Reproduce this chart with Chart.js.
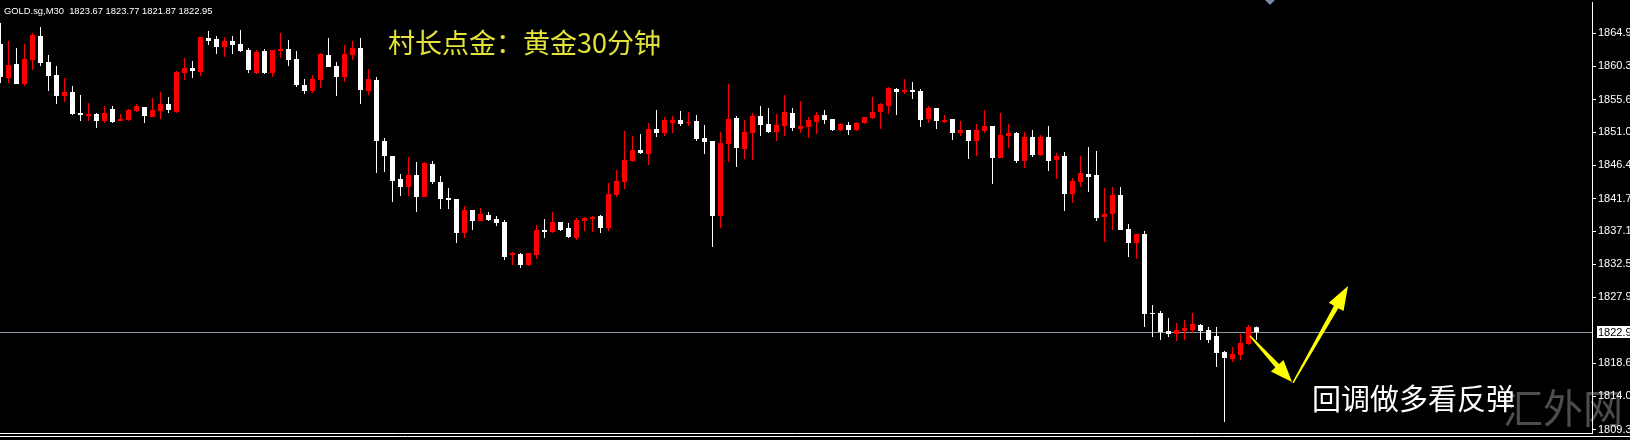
<!DOCTYPE html>
<html>
<head>
<meta charset="utf-8">
<title>GOLD.sg M30</title>
<script src="https://cdn.jsdelivr.net/npm/chart.js@4"></script>
<style>
  html, body { margin: 0; padding: 0; background: #000; }
  #wrap { position: relative; width: 1630px; height: 440px; }
</style>
</head>
<body>
<div id="wrap"><canvas id="chart"></canvas></div>
<script>
// texts on the chart
const symbolLine = 'GOLD.sg,M30  1823.67 1823.77 1821.87 1822.95';
const titleText = '村长点金：黄金30分钟';
const noteText = '回调做多看反弹';
const watermark = '汇外网';

// price axis ticks and the current bid
const priceTicks = [1864.90, 1860.30, 1855.60, 1851.00, 1846.40, 1841.70, 1837.10, 1832.50, 1827.90, 1818.60, 1814.00, 1809.30];
const lastPrice = 1822.95;
const axisFont = '"Liberation Sans Narrow", "Liberation Sans"';

// 30 minute bars (oldest first)
const open = [
  1863.40, 1858.63, 1860.59, 1857.78, 1861.15, 1864.52, 1860.87, 1859.05, 1856.10, 1856.66,
  1853.72, 1853.29, 1853.58, 1852.59, 1854.28, 1852.59, 1852.73, 1854.00, 1854.56, 1853.15,
  1854.00, 1854.98, 1853.86, 1859.33, 1860.03, 1859.47, 1864.24, 1864.10, 1862.98, 1863.82,
  1863.40, 1862.56, 1859.33, 1862.41, 1859.33, 1862.41, 1862.70, 1861.29, 1857.64, 1856.80,
  1858.35, 1861.85, 1860.31, 1858.77, 1861.85, 1862.84, 1856.80, 1858.35, 1849.79, 1847.68,
  1844.46, 1843.33, 1845.02, 1841.93, 1846.56, 1844.04, 1841.79, 1841.65, 1836.88, 1840.11,
  1838.56, 1839.41, 1838.84, 1838.42, 1833.79, 1833.93, 1832.39, 1833.79, 1837.30, 1837.02,
  1838.42, 1837.58, 1836.18, 1838.56, 1838.84, 1839.27, 1837.58, 1842.21, 1844.04, 1846.98,
  1848.53, 1847.96, 1851.47, 1850.91, 1852.31, 1852.73, 1852.31, 1852.59, 1850.21, 1849.79,
  1839.27, 1849.37, 1853.01, 1848.67, 1850.91, 1853.29, 1852.17, 1851.05, 1851.89, 1853.72,
  1851.47, 1851.75, 1852.45, 1853.43, 1852.87, 1851.33, 1852.03, 1851.33, 1852.31, 1853.01,
  1853.86, 1854.70, 1857.08, 1856.66, 1856.94, 1856.80, 1852.87, 1854.42, 1852.45, 1852.87,
  1850.91, 1851.33, 1849.79, 1851.19, 1851.89, 1847.40, 1850.49, 1850.91, 1846.98, 1850.35,
  1847.82, 1850.35, 1847.12, 1847.68, 1842.35, 1844.04, 1845.16, 1845.02, 1839.12, 1839.55,
  1842.21, 1837.44, 1835.48, 1836.74, 1825.66, 1825.66, 1823.13, 1822.71, 1823.13, 1823.27,
  1823.97, 1823.27, 1822.43, 1820.18, 1819.20, 1819.76, 1821.31, 1823.67
];
const high = [
  1866.34, 1863.82, 1862.84, 1863.40, 1864.94, 1865.78, 1861.85, 1860.31, 1858.63, 1857.50,
  1856.24, 1855.12, 1853.72, 1854.70, 1854.70, 1853.58, 1854.28, 1854.98, 1854.56, 1855.82,
  1856.66, 1855.96, 1859.61, 1861.43, 1861.01, 1864.38, 1865.22, 1864.52, 1864.38, 1864.52,
  1865.36, 1862.84, 1862.56, 1862.70, 1862.56, 1864.94, 1863.96, 1862.41, 1858.49, 1859.05,
  1862.13, 1864.24, 1860.87, 1863.26, 1863.82, 1864.24, 1859.89, 1858.77, 1850.21, 1847.68,
  1845.16, 1847.54, 1846.84, 1846.84, 1846.98, 1844.88, 1843.19, 1841.65, 1840.67, 1840.11,
  1840.39, 1839.83, 1839.27, 1838.70, 1834.21, 1834.07, 1834.07, 1838.00, 1838.84, 1839.83,
  1838.42, 1838.28, 1838.98, 1839.12, 1839.27, 1839.41, 1843.90, 1845.72, 1851.19, 1850.49,
  1850.77, 1852.31, 1854.14, 1853.15, 1853.29, 1854.00, 1853.86, 1853.43, 1852.03, 1849.79,
  1851.05, 1857.78, 1853.29, 1852.73, 1853.72, 1854.70, 1854.42, 1853.58, 1856.24, 1854.42,
  1855.40, 1853.15, 1853.86, 1854.14, 1852.87, 1852.31, 1852.45, 1852.45, 1853.15, 1855.96,
  1855.12, 1857.36, 1857.22, 1858.49, 1858.07, 1857.08, 1854.70, 1854.42, 1853.43, 1852.87,
  1852.59, 1851.33, 1852.17, 1854.14, 1851.89, 1853.72, 1852.17, 1851.05, 1851.05, 1851.33,
  1850.63, 1851.89, 1848.10, 1848.24, 1844.60, 1847.68, 1848.95, 1848.38, 1843.19, 1843.33,
  1843.33, 1838.14, 1836.74, 1837.16, 1826.78, 1825.94, 1824.96, 1824.25, 1824.67, 1825.66,
  1824.11, 1823.69, 1823.69, 1820.32, 1820.88, 1822.71, 1823.97, 1823.77
];
const low = [
  1857.92, 1857.92, 1857.78, 1857.50, 1859.75, 1860.31, 1856.80, 1854.98, 1855.26, 1853.43,
  1852.59, 1852.59, 1851.61, 1852.31, 1852.31, 1852.59, 1852.59, 1853.86, 1852.31, 1853.15,
  1852.87, 1853.72, 1853.72, 1858.35, 1858.63, 1858.91, 1863.26, 1861.99, 1861.57, 1861.99,
  1862.27, 1859.33, 1859.19, 1859.19, 1858.77, 1861.43, 1860.31, 1857.36, 1856.38, 1856.52,
  1857.22, 1860.17, 1856.10, 1858.07, 1861.15, 1854.98, 1856.24, 1845.30, 1845.44, 1841.23,
  1842.07, 1842.07, 1839.83, 1841.93, 1843.76, 1840.25, 1840.25, 1835.48, 1836.18, 1837.30,
  1838.56, 1838.56, 1837.86, 1833.09, 1832.39, 1831.97, 1832.25, 1833.23, 1836.18, 1836.88,
  1837.16, 1836.18, 1835.90, 1837.16, 1837.02, 1836.88, 1837.16, 1841.93, 1843.05, 1846.84,
  1847.96, 1846.42, 1850.35, 1850.49, 1850.91, 1851.89, 1851.89, 1849.79, 1847.96, 1834.92,
  1837.58, 1846.84, 1846.14, 1847.26, 1847.12, 1850.49, 1850.91, 1849.79, 1850.49, 1851.19,
  1850.91, 1850.21, 1850.77, 1852.17, 1851.19, 1851.19, 1850.63, 1851.19, 1852.17, 1852.87,
  1851.47, 1853.58, 1853.43, 1856.38, 1855.68, 1851.75, 1852.31, 1851.47, 1852.31, 1849.93,
  1850.49, 1847.26, 1847.68, 1850.91, 1843.76, 1847.40, 1848.81, 1846.70, 1846.00, 1847.54,
  1847.68, 1845.58, 1844.46, 1839.97, 1841.09, 1843.33, 1842.63, 1838.56, 1835.62, 1837.30,
  1837.30, 1833.51, 1833.23, 1823.69, 1822.29, 1821.87, 1822.29, 1821.73, 1821.87, 1822.85,
  1821.87, 1821.45, 1818.08, 1810.36, 1818.78, 1819.06, 1821.17, 1821.87
];
const close = [
  1858.77, 1860.45, 1857.78, 1861.29, 1864.66, 1860.73, 1858.91, 1856.10, 1856.66, 1853.58,
  1853.43, 1853.58, 1852.59, 1853.72, 1852.45, 1852.87, 1854.14, 1854.70, 1853.29, 1854.14,
  1854.98, 1854.14, 1859.47, 1860.03, 1859.61, 1864.38, 1863.82, 1862.98, 1863.82, 1863.26,
  1862.41, 1859.75, 1862.27, 1859.33, 1862.56, 1862.70, 1861.15, 1857.64, 1856.80, 1858.49,
  1861.99, 1860.17, 1858.77, 1861.99, 1862.84, 1856.94, 1858.49, 1849.79, 1847.68, 1844.18,
  1843.33, 1845.02, 1841.93, 1846.70, 1844.04, 1841.65, 1841.51, 1836.88, 1840.11, 1838.56,
  1839.55, 1838.70, 1838.28, 1833.51, 1834.07, 1832.39, 1834.07, 1837.30, 1837.02, 1838.42,
  1837.30, 1836.32, 1838.70, 1838.98, 1839.12, 1837.58, 1842.35, 1844.18, 1847.12, 1848.53,
  1848.10, 1851.47, 1850.91, 1852.73, 1852.73, 1852.17, 1852.45, 1850.07, 1849.65, 1839.27,
  1849.51, 1852.87, 1848.81, 1851.05, 1853.29, 1852.03, 1851.05, 1852.03, 1853.86, 1851.61,
  1851.89, 1852.73, 1853.43, 1852.73, 1851.33, 1852.17, 1851.33, 1852.31, 1853.15, 1853.86,
  1854.98, 1857.22, 1856.66, 1856.94, 1856.66, 1852.73, 1854.42, 1852.59, 1852.73, 1850.91,
  1851.33, 1849.79, 1851.33, 1851.89, 1847.40, 1850.63, 1850.91, 1846.98, 1850.35, 1847.82,
  1850.35, 1846.98, 1847.68, 1842.35, 1844.18, 1845.30, 1844.74, 1838.98, 1839.55, 1842.21,
  1837.30, 1835.48, 1836.74, 1825.52, 1825.52, 1822.99, 1822.71, 1823.27, 1823.55, 1824.11,
  1823.13, 1821.87, 1820.04, 1819.34, 1819.90, 1821.45, 1823.69, 1822.95
];

// hand-drawn arrows, in (bar index, price)
const arrowDown = [[156.2, 1822.43], [161.44, 1815.98]];
const arrowUp = [[161.56, 1815.84], [168.44, 1829.44]];

const UP = '#ff0000', DOWN = '#ffffff';
const colors = open.map((o, i) => close[i] >= o ? UP : DOWN);
const bodies = open.map((o, i) => ({ x: i, y: [Math.min(o, close[i]), Math.max(o, close[i])] }));
const wicks = high.map((h, i) => ({ x: i, y: [low[i], h] }));

function drawArrow(ctx, x0, y0, x1, y1, w0, w1, headLen, headW) {
  const len = Math.hypot(x1 - x0, y1 - y0);
  const dx = (x1 - x0) / len, dy = (y1 - y0) / len;
  const nx = -dy, ny = dx;
  const bx = x1 - dx * headLen, by = y1 - dy * headLen;
  ctx.beginPath();
  ctx.moveTo(x0 + nx * w0 / 2, y0 + ny * w0 / 2);
  ctx.lineTo(bx + nx * w1 / 2, by + ny * w1 / 2);
  ctx.lineTo(bx + nx * headW / 2, by + ny * headW / 2);
  ctx.lineTo(x1, y1);
  ctx.lineTo(bx - nx * headW / 2, by - ny * headW / 2);
  ctx.lineTo(bx - nx * w1 / 2, by - ny * w1 / 2);
  ctx.lineTo(x0 - nx * w0 / 2, y0 - ny * w0 / 2);
  ctx.closePath();
  ctx.fill();
}

const overlay = {
  id: 'overlay',
  beforeDraw(chart) {
    const { ctx } = chart;
    ctx.save();
    ctx.fillStyle = '#000';
    ctx.fillRect(0, 0, chart.width, chart.height);
    ctx.font = '40px "Noto Sans CJK SC"';
    ctx.fillStyle = '#4d4d4d';
    ctx.textBaseline = 'middle';
    ctx.fillText(watermark, 1503, 408);
    ctx.restore();
  },
  beforeDatasetsDraw(chart) {
    const { ctx, chartArea } = chart;
    const y = Math.round(chart.scales.y.getPixelForValue(lastPrice)) + 0.5;
    ctx.save();
    ctx.strokeStyle = '#8a96a4';
    ctx.lineWidth = 1;
    ctx.beginPath();
    ctx.moveTo(chartArea.left, y);
    ctx.lineTo(chartArea.right, y);
    ctx.stroke();
    ctx.restore();
  },
  afterDraw(chart) {
    const { ctx, chartArea, scales } = chart;
    const xs = scales.x, ys = scales.y;
    ctx.save();

    // window frame
    ctx.strokeStyle = '#ffffff';
    ctx.lineWidth = 1;
    ctx.beginPath();
    ctx.moveTo(0, chartArea.bottom + 0.5);
    ctx.lineTo(chartArea.right + 1, chartArea.bottom + 0.5);
    ctx.moveTo(0, chartArea.bottom + 3.5);
    ctx.lineTo(chart.width, chartArea.bottom + 3.5);
    ctx.stroke();

    // chart shift marker
    ctx.fillStyle = '#7a8aa8';
    ctx.beginPath();
    ctx.moveTo(1265, 0);
    ctx.lineTo(1275, 0);
    ctx.lineTo(1270, 5);
    ctx.closePath();
    ctx.fill();

    // current price label
    const py = Math.round(ys.getPixelForValue(lastPrice));
    ctx.fillStyle = '#ffffff';
    ctx.fillRect(chartArea.right + 5, py - 6, chart.width - chartArea.right - 5, 12);
    ctx.fillStyle = '#000000';
    ctx.font = '11px ' + axisFont;
    ctx.textBaseline = 'middle';
    ctx.fillText(lastPrice.toFixed(2), chartArea.right + 6, py + 0.5);

    // symbol line
    ctx.fillStyle = '#ffffff';
    ctx.font = '9.4px "Liberation Sans"';
    ctx.textBaseline = 'alphabetic';
    ctx.fillText(symbolLine, 4, 14);

    // title
    ctx.fillStyle = '#e2e23a';
    ctx.font = '27px "Noto Sans CJK SC"';
    ctx.textBaseline = 'middle';
    ctx.fillText(titleText, 388, 43);

    // arrows
    ctx.fillStyle = '#ffff00';
    drawArrow(ctx, xs.getPixelForValue(arrowDown[0][0]), ys.getPixelForValue(arrowDown[0][1]),
      xs.getPixelForValue(arrowDown[1][0]), ys.getPixelForValue(arrowDown[1][1]), 1.5, 5, 22, 17);
    drawArrow(ctx, xs.getPixelForValue(arrowUp[0][0]), ys.getPixelForValue(arrowUp[0][1]),
      xs.getPixelForValue(arrowUp[1][0]), ys.getPixelForValue(arrowUp[1][1]), 1.5, 5, 24, 17);

    // note
    ctx.fillStyle = '#ffffff';
    ctx.font = '29px "Noto Sans CJK SC"';
    ctx.fillText(noteText, 1312, 399);
    ctx.restore();
  }
};

new Chart(document.getElementById('chart'), {
  type: 'bar',
  data: {
    datasets: [
      { data: bodies, backgroundColor: colors, barThickness: 5, minBarLength: 1, grouped: false, borderWidth: 0, inflateAmount: 0 },
      { data: wicks, backgroundColor: colors, barThickness: 1, grouped: false, borderWidth: 0, inflateAmount: 0 }
    ]
  },
  options: {
    responsive: true,
    maintainAspectRatio: false,
    animation: false,
    devicePixelRatio: 1,
    layout: { autoPadding: false, padding: { top: 2, bottom: 7, left: 0, right: 0 } },
    plugins: { legend: { display: false }, tooltip: { enabled: false } },
    scales: {
      x: {
        type: 'linear', min: -0.0625, max: 198.9375, offset: false, bounds: 'data',
        grid: { offset: false }, display: false
      },
      y: {
        position: 'right',
        min: 1808.82,
        max: 1869.29,
        afterFit(s) { s.width = 38; s.paddingTop = 0; s.paddingBottom = 0; },
        afterBuildTicks(s) { s.ticks = priceTicks.map(v => ({ value: v })); },
        grid: { display: true, drawOnChartArea: false, drawTicks: true, tickLength: 4, color: '#ffffff' },
        border: { display: true, color: '#ffffff' },
        ticks: {
          color: '#ffffff',
          padding: 2,
          autoSkip: false,
          font: { family: axisFont, size: 11 },
          callback: v => v.toFixed(2)
        }
      }
    }
  },
  plugins: [overlay]
});
</script>
</body>
</html>
